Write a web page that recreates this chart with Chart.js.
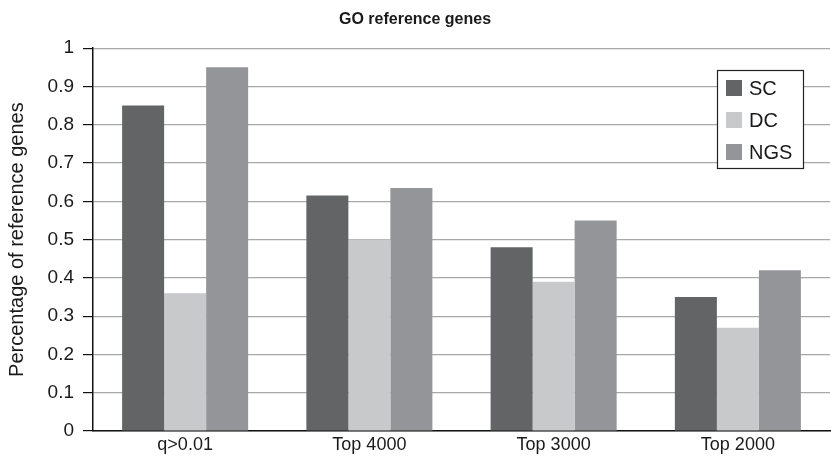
<!DOCTYPE html>
<html>
<head>
<meta charset="utf-8">
<script src="https://cdn.jsdelivr.net/npm/chart.js@4/dist/chart.umd.min.js"></script>
<style>
  html, body { margin: 0; padding: 0; background: #fff; }
  #wrap { width: 831px; height: 458px; }
</style>
</head>
<body>
<div id="wrap"><canvas id="c" width="831" height="458"></canvas></div>
<script>
const categories = ['q>0.01', 'Top 4000', 'Top 3000', 'Top 2000'];
const seriesNames = ['SC', 'DC', 'NGS'];
const scValues = [0.85, 0.615, 0.48, 0.35];
const dcValues = [0.36, 0.50, 0.39, 0.27];
const ngsValues = [0.95, 0.635, 0.55, 0.42];
const seriesColors = ['#636466', '#c8c9cb', '#949598'];

const FONT = '"Liberation Sans", Arial, sans-serif';

// Boxed legend drawn inside the plot area, top-right
const boxLegend = {
  id: 'boxLegend',
  afterDraw(chart) {
    const ctx = chart.ctx;
    const x0 = 717, y0 = 70, w = 86, h = 98;
    ctx.save();
    ctx.fillStyle = '#fff';
    ctx.fillRect(x0, y0, w, h);
    ctx.strokeStyle = '#222';
    ctx.lineWidth = 1.2;
    ctx.strokeRect(x0 + 0.5, y0 + 0.5, w, h);
    ctx.font = '20px ' + FONT;
    ctx.textBaseline = 'middle';
    chart.data.datasets.forEach((ds, i) => {
      const cy = y0 + 18 + i * 32;
      ctx.fillStyle = ds.backgroundColor;
      ctx.fillRect(x0 + 9, cy - 8, 16, 16);
      ctx.fillStyle = '#1a1a1a';
      ctx.fillText(ds.label, x0 + 32, cy + 1);
    });
    ctx.restore();
  }
};

new Chart(document.getElementById('c'), {
  type: 'bar',
  data: {
    labels: categories,
    datasets: [
      { label: seriesNames[0], data: scValues, backgroundColor: seriesColors[0] },
      { label: seriesNames[1], data: dcValues, backgroundColor: seriesColors[1] },
      { label: seriesNames[2], data: ngsValues, backgroundColor: seriesColors[2] }
    ]
  },
  options: {
    responsive: false,
    animation: false,
    layout: { padding: { left: 0, right: 1, top: 0, bottom: 0 } },
    datasets: { bar: { barPercentage: 1.0, categoryPercentage: 0.684, borderWidth: 0 } },
    plugins: {
      legend: { display: false },
      tooltip: { enabled: false },
      title: {
        display: true,
        text: 'GO reference genes',
        color: '#1a1a1a',
        font: { family: FONT, size: 16, weight: 'bold' },
        padding: { top: 10, bottom: 19 }
      }
    },
    scales: {
      x: {
        grid: { display: false, drawTicks: false },
        border: { display: true, color: '#111', width: 1.5 },
        ticks: { color: '#1a1a1a', font: { family: FONT, size: 18 }, padding: 3 },
        afterFit(scale) { scale.height = 27; }
      },
      y: {
        min: 0, max: 1,
        ticks: {
          stepSize: 0.1,
          color: '#1a1a1a',
          font: { family: FONT, size: 19 },
          padding: 9,
          callback: (v) => String(Math.round(v * 10) / 10)
        },
        grid: { color: '#a8a8a8', lineWidth: 1.2, tickColor: '#111', tickLength: 10, drawTicks: true },
        border: { display: true, color: '#111', width: 1.5 },
        title: {
          display: true,
          text: 'Percentage of reference genes',
          color: '#1a1a1a',
          font: { family: FONT, size: 20 },
          padding: { top: 5, bottom: 4 }
        },
        afterFit(scale) { scale.width = 93; }
      }
    }
  },
  plugins: [boxLegend]
});
</script>
</body>
</html>
